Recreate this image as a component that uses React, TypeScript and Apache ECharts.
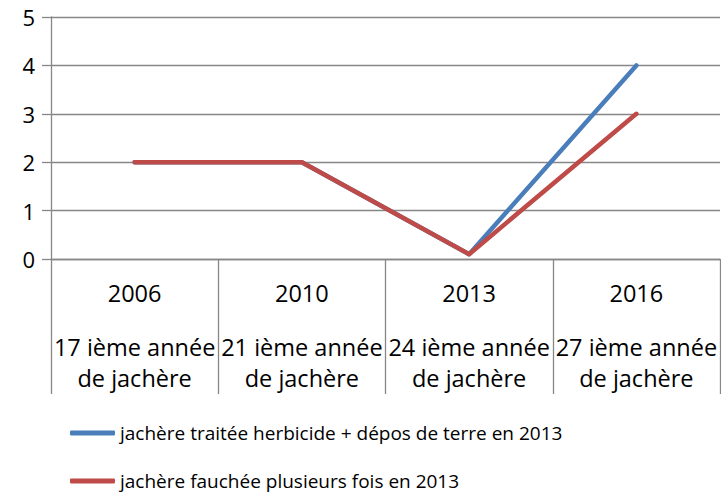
import React, { useEffect, useRef } from "react";
import * as echarts from "echarts";

const years = ["2006", "2010", "2013", "2016"];
const subLabels = ["17 ième année", "21 ième année", "24 ième année", "27 ième année"];
const subLabels2 = ["de jachère", "de jachère", "de jachère", "de jachère"];
const seriesNames = [
  "jachère traitée herbicide + dépos de terre en 2013",
  "jachère fauchée plusieurs fois en 2013",
];
const blueValues = [2, 2, 0.1, 4];
const redValues = [2, 2, 0.1, 3];
const yTicks = [0, 1, 2, 3, 4, 5];

const FONT = "'Open Sans', 'Noto Sans', sans-serif";
const GRID_COLOR = "#878787";

const legendBase = {
  orient: "horizontal",
  left: 70,
  itemWidth: 45,
  itemHeight: 5,
  icon: "roundRect",
  padding: 0,
  textStyle: { fontFamily: FONT, fontSize: 19, color: "#000", lineHeight: 26 },
};

export default function App() {
  const ref = useRef<HTMLDivElement>(null);
  useEffect(() => {
    if (!ref.current) return;
    const chart = echarts.init(ref.current, null, { renderer: "svg" });
    chart.setOption({
      animation: false,
      backgroundColor: "#ffffff",
      textStyle: { fontFamily: FONT, color: "#000" },
      grid: { left: 51, right: 1, top: 17, bottom: 236, containLabel: false },
      legend: [
        { ...legendBase, top: 420, data: [seriesNames[0]] },
        { ...legendBase, top: 468, data: [seriesNames[1]] },
      ],
      xAxis: {
        type: "category",
        data: years,
        boundaryGap: true,
        axisLine: { show: true, lineStyle: { color: GRID_COLOR, width: 1.3 } },
        axisTick: {
          show: true,
          interval: 0,
          length: 135,
          alignWithLabel: false,
          lineStyle: { color: GRID_COLOR, width: 1.3 },
        },
        axisLabel: {
          interval: 0,
          hideOverlap: false,
          margin: 16,
          fontFamily: FONT,
          color: "#000",
          formatter: (value: string, idx: number) =>
            `{y|${value}}\n{sp| }\n{s1|${subLabels[idx]}}\n{s2|${subLabels2[idx]}}`,
          rich: {
            y: { fontSize: 23.5, lineHeight: 36, fontFamily: FONT, color: "#000" },
            sp: { fontSize: 10, lineHeight: 20 },
            s1: { fontSize: 23.5, lineHeight: 32, fontFamily: FONT, color: "#000" },
            s2: { fontSize: 23.5, lineHeight: 30, fontFamily: FONT, color: "#000" },
          },
        },
        splitLine: { show: false },
      },
      yAxis: {
        type: "value",
        min: yTicks[0],
        max: yTicks[yTicks.length - 1],
        interval: 1,
        axisLine: { show: true, lineStyle: { color: GRID_COLOR, width: 1.3 } },
        axisTick: { show: true, inside: false, length: 9, lineStyle: { color: GRID_COLOR, width: 1.3 } },
        axisLabel: { fontSize: 22, margin: 16, color: "#000", fontFamily: FONT },
        splitLine: { show: true, lineStyle: { color: GRID_COLOR, width: 1.3 } },
      },
      series: [
        {
          name: seriesNames[0],
          type: "line",
          data: blueValues,
          symbol: "none",
          color: "#4a7ebb",
          lineStyle: { width: 4.5, color: "#4a7ebb", cap: "round", join: "round" },
          z: 2,
        },
        {
          name: seriesNames[1],
          type: "line",
          data: redValues,
          symbol: "none",
          color: "#be4b48",
          lineStyle: { width: 4.5, color: "#be4b48", cap: "round", join: "round" },
          z: 3,
        },
      ],
    });
    return () => chart.dispose();
  }, []);
  return <div ref={ref} style={{ width: 721, height: 495, position: "absolute", left: 0, top: 0 }} />;
}
